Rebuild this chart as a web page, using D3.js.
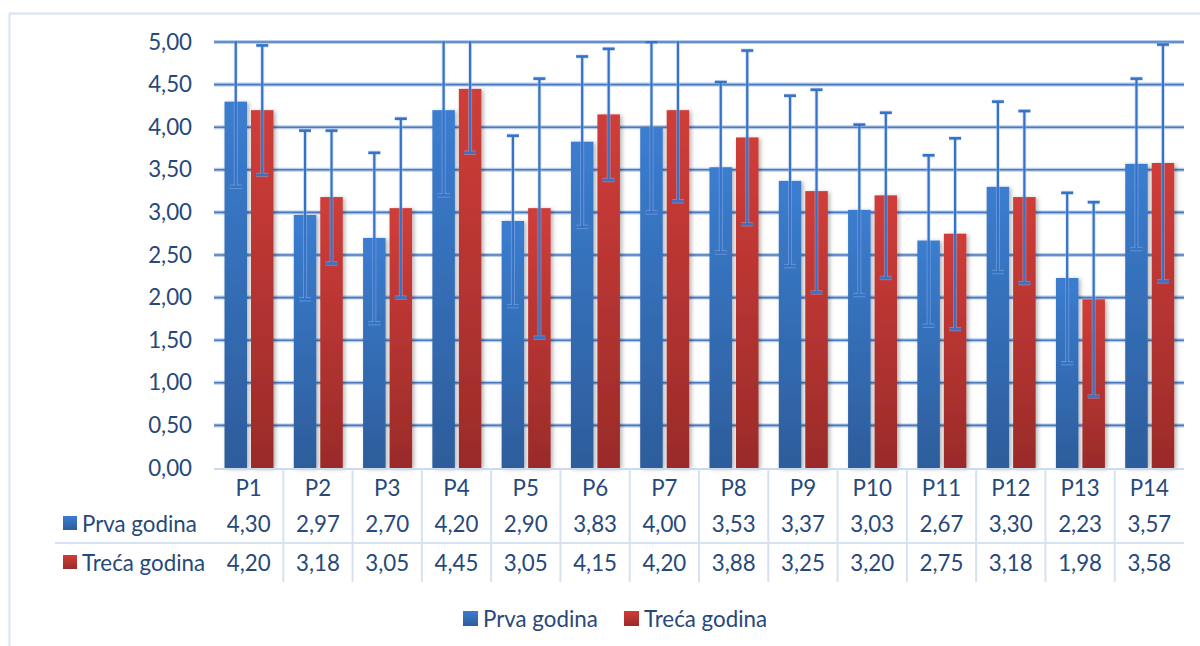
<!DOCTYPE html>
<html>
<head>
<meta charset="utf-8">
<script src="https://cdn.jsdelivr.net/npm/d3@7"></script>
<style>
body { margin: 0; background: #fff; }
text { font-family: Lato, "Open Sans", sans-serif; }
</style>
</head>
<body>
<svg id="chart" width="1200" height="646"></svg>
<script>
const categories = ["P1","P2","P3","P4","P5","P6","P7","P8","P9","P10","P11","P12","P13","P14"];
const seriesNames = ["Prva godina", "Treća godina"];
const prva = [4.30, 2.97, 2.70, 4.20, 2.90, 3.83, 4.00, 3.53, 3.37, 3.03, 2.67, 3.30, 2.23, 3.57];
const treca = [4.20, 3.18, 3.05, 4.45, 3.05, 4.15, 4.20, 3.88, 3.25, 3.20, 2.75, 3.18, 1.98, 3.58];
// standard deviations
const prvaErr = [1.00, 0.99, 1.00, 1.00, 1.00, 1.00, 1.00, 1.00, 1.00, 1.00, 1.00, 1.00, 1.00, 1.00];
const trecaErr = [0.76, 0.78, 1.05, 0.75, 1.52, 0.77, 1.07, 1.02, 1.19, 0.97, 1.12, 1.01, 1.14, 1.39];
const yTicks = [0, 0.5, 1, 1.5, 2, 2.5, 3, 3.5, 4, 4.5, 5];

const fmt = v => v.toFixed(2).replace(".", ",");
const textColor = "#27487a";
const fs = "22.3px";

const svg = d3.select("#chart");
const defs = svg.append("defs");

function grad(id, top, bottom) {
  const g = defs.append("linearGradient").attr("id", id)
    .attr("x1", 0).attr("y1", 0).attr("x2", 0).attr("y2", 1);
  g.append("stop").attr("offset", "0%").attr("stop-color", top);
  g.append("stop").attr("offset", "100%").attr("stop-color", bottom);
}
grad("gBlue", "#3b7dd0", "#2d5d9b");
grad("gRed", "#d03d39", "#9a2b29");

const shadow = defs.append("filter").attr("id", "shadow")
  .attr("x", "-30%").attr("y", "-10%").attr("width", "160%").attr("height", "120%");
shadow.append("feDropShadow").attr("dx", 2).attr("dy", 1).attr("stdDeviation", 2)
  .attr("flood-color", "#000").attr("flood-opacity", 0.3);

const plotTop = 42, plotBottom = 468, plotLeft = 214, plotRight = 1184;

defs.append("clipPath").attr("id", "plotClip")
  .append("rect").attr("x", plotLeft - 10).attr("y", plotTop - 1)
  .attr("width", plotRight - plotLeft + 20).attr("height", plotBottom - plotTop + 1);

const y = d3.scaleLinear().domain([0, 5]).range([plotBottom, plotTop]);
const x = d3.scaleBand().domain(categories).range([plotLeft, plotRight]);
const xSub = d3.scaleBand().domain([0, 1]).range([10.5, 59.5]).paddingInner(0.15);

// outer border
svg.append("path").attr("d", "M9.5,646 V13.5 H1200")
  .attr("fill", "none").attr("stroke", "#d6e3f3").attr("stroke-width", 2);

// gridlines
const grid = svg.append("g");
const gridVals = yTicks.filter(v => v > 0);
grid.selectAll("line.halo").data(gridVals).enter().append("line")
  .attr("x1", plotLeft).attr("x2", plotRight)
  .attr("y1", d => y(d)).attr("y2", d => y(d))
  .attr("stroke", "#b8cdea").attr("stroke-width", 4);
grid.selectAll("line.core").data(gridVals).enter().append("line")
  .attr("x1", plotLeft).attr("x2", plotRight)
  .attr("y1", d => y(d)).attr("y2", d => y(d))
  .attr("stroke", "#4a7bbe").attr("stroke-width", 1.6);

// y axis labels
const yAxis = d3.axisLeft(y).tickValues(yTicks).tickFormat(fmt).tickSize(0).tickPadding(0);
const ya = svg.append("g").attr("transform", "translate(192,0)").call(yAxis);
ya.select(".domain").remove();
ya.selectAll("text").attr("fill", textColor).style("font-size", fs)
  .style("font-family", "Lato, sans-serif");

// bars
const rows = categories.map((c, i) => ({ c, vals: [prva[i], treca[i]], errs: [prvaErr[i], trecaErr[i]] }));
const barG = svg.append("g");
rows.forEach(r => {
  r.vals.forEach((v, s) => {
    barG.append("rect")
      .attr("x", x(r.c) + xSub(s)).attr("width", xSub.bandwidth())
      .attr("y", y(v)).attr("height", y(0) - y(v))
      .attr("fill", s === 0 ? "url(#gBlue)" : "url(#gRed)")
      .attr("filter", "url(#shadow)");
  });
});

// error bars
const errG = svg.append("g").attr("clip-path", "url(#plotClip)");
const errData = [];
rows.forEach(r => r.vals.forEach((v, s) => {
  errData.push({ cx: x(r.c) + xSub(s) + xSub.bandwidth() / 2, hi: v + r.errs[s], lo: v - r.errs[s] });
}));
function errLines(col, w, op) {
  const g = errG.append("g").attr("stroke", col).attr("stroke-opacity", op);
  g.selectAll(null).data(errData).enter().append("line")
    .attr("x1", d => d.cx).attr("x2", d => d.cx)
    .attr("y1", d => y(d.hi)).attr("y2", d => y(d.lo))
    .attr("stroke-width", w);
  ["hi", "lo"].forEach(k => {
    g.selectAll(null).data(errData.filter(d => d[k] <= 5)).enter().append("line")
      .attr("x1", d => d.cx - 6).attr("x2", d => d.cx + 6)
      .attr("y1", d => y(d[k])).attr("y2", d => y(d[k]))
      .attr("stroke-width", w + 0.4);
  });
}
errLines("#a9c2e8", 4, 0.45);
errLines("#3572c8", 2.2, 1);

// axis baseline
svg.append("line").attr("x1", plotLeft).attr("x2", plotRight)
  .attr("y1", plotBottom + 1).attr("y2", plotBottom + 1)
  .attr("stroke", "#c9daef").attr("stroke-width", 2);

// data table
const tableBottom = 582, rowLine = 543;
const tab = svg.append("g");
tab.selectAll("line.v").data(categories.slice(1)).enter().append("line")
  .attr("x1", d => x(d)).attr("x2", d => x(d))
  .attr("y1", plotBottom + 1).attr("y2", tableBottom)
  .attr("stroke", "#d5e2f2").attr("stroke-width", 2);
tab.append("line").attr("x1", 55).attr("x2", plotRight)
  .attr("y1", rowLine).attr("y2", rowLine)
  .attr("stroke", "#d5e2f2").attr("stroke-width", 2);

tab.selectAll("text.cat").data(categories).enter().append("text")
  .attr("x", d => x(d) + x.bandwidth() / 2).attr("y", 487)
  .attr("text-anchor", "middle").attr("dominant-baseline", "central")
  .attr("fill", textColor).style("font-size", fs).text(d => d);

const rowY = [523, 562];
[prva, treca].forEach((vals, s) => {
  tab.selectAll(null).data(vals).enter().append("text")
    .attr("x", (d, i) => x(categories[i]) + x.bandwidth() / 2).attr("y", rowY[s])
    .attr("text-anchor", "middle").attr("dominant-baseline", "central")
    .attr("fill", textColor).style("font-size", fs).text(fmt);
  tab.append("rect").attr("x", 63).attr("y", rowY[s] - 7).attr("width", 14).attr("height", 14)
    .attr("fill", s === 0 ? "url(#gBlue)" : "url(#gRed)");
  tab.append("text").attr("x", 82).attr("y", rowY[s])
    .attr("dominant-baseline", "central")
    .attr("fill", textColor).style("font-size", fs).text(seriesNames[s]);
});

// legend
const legend = svg.append("g");
const legX = [463, 624];
seriesNames.forEach((n, s) => {
  legend.append("rect").attr("x", legX[s]).attr("y", 611).attr("width", 15).attr("height", 15)
    .attr("fill", s === 0 ? "url(#gBlue)" : "url(#gRed)");
  legend.append("text").attr("x", legX[s] + 20).attr("y", 618)
    .attr("dominant-baseline", "central")
    .attr("fill", textColor).style("font-size", fs).text(n);
});
</script>
</body>
</html>
